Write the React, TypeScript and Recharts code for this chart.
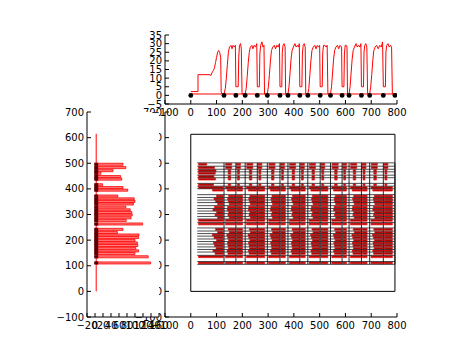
import React from "react";
import {
  ComposedChart,
  Line,
  Scatter,
  XAxis,
  YAxis,
  ReferenceArea,
  ReferenceLine,
} from "recharts";

// top panel: red trace and black markers on the zero line
const trace: [number, number][] = [
  [0, 2.2], [28, 2.2], [28, 12], [74, 12], [78, 11.5], [82, 13], [88, 14.5], [92, 16], [96, 19],
  [100, 22], [104, 25], [108, 26], [112, 25], [116, 22], [118, 2], [121, 0.8], [129, 0.8],
  [134, 4], [138, 10], [142, 18], [146, 25], [150, 28], [156, 29], [160, 27], [164, 29], [169, 28], [173, 29],
  [175, 5], [184, 5], [186, 22], [189, 29], [193, 30], [196, 27], [199, 0.8], [211, 0.8],
  [215, 4], [219, 11], [223, 19], [227, 25], [231, 28], [237, 29], [241, 27], [246, 29], [251, 28], [256, 30],
  [258, 5], [266, 5], [268, 24], [271, 29], [276, 31], [280, 28], [284, 29], [286, 0.8], [297, 0.8],
  [301, 5], [305, 12], [309, 20], [313, 26], [318, 28], [324, 29], [329, 27], [334, 29], [339, 28], [344, 30],
  [346, 5], [353, 5], [355, 25], [358, 29], [362, 30], [366, 28], [368, 0.8], [377, 0.8],
  [381, 5], [385, 13], [389, 21], [393, 26], [398, 28], [404, 30], [409, 28], [414, 29], [418, 28], [421, 30],
  [423, 5], [431, 5], [433, 24], [436, 29], [440, 30], [444, 28], [446, 0.8], [454, 0.8],
  [458, 4], [462, 12], [466, 20], [470, 26], [475, 28], [481, 29], [486, 27], [491, 29], [496, 28], [500, 29],
  [502, 5], [510, 5], [512, 25], [515, 29], [520, 29], [525, 28], [529, 29], [532, 0.8], [542, 0.8],
  [546, 5], [550, 13], [554, 21], [558, 26], [563, 28], [569, 29], [574, 27], [579, 29], [585, 28],
  [587, 5], [594, 5], [596, 24], [599, 29], [603, 29], [606, 28], [608, 0.8], [614, 0.8],
  [618, 5], [622, 13], [626, 21], [630, 26], [635, 28], [641, 30], [646, 28], [651, 29], [656, 28], [660, 30],
  [662, 5], [670, 5], [672, 25], [675, 29], [679, 30], [683, 28], [686, 0.8], [694, 0.8],
  [698, 5], [702, 12], [706, 20], [710, 26], [715, 28], [721, 29], [727, 27], [733, 29], [739, 28], [744, 31],
  [747, 5], [755, 5], [757, 25], [760, 29], [765, 30], [770, 28], [775, 29], [779, 28], [782, 0.8], [800, 0.8],
];
const gapX = [0, 129, 175, 211, 258, 297, 346, 377, 423, 454, 502, 542, 587, 614, 662, 694, 747, 792];
const baseLevel = 0.8;

// cycles seen in the main panel
const cycleFrom = [129, 211, 297, 377, 454, 542, 614, 694];
const cycleMid = [175, 258, 346, 423, 502, 587, 662, 747];
const cycleTo = [211, 297, 377, 454, 542, 614, 694, 792];

// rows shared by the left histogram and the main panel
const rowY = [496, 483, 471, 461, 448, 438, 416, 405, 395, 372, 361, 351, 341, 329, 318, 308, 298, 287, 277, 263,
  242, 230, 220, 210, 199, 189, 179, 168, 158, 148, 135, 111];
const barLen = [70, 77, 45, 15, 64, 67, 19, 70, 82, 57, 98, 100, 96, 77, 88, 92, 93, 90, 78, 119,
  70, 56, 110, 109, 100, 106, 107, 102, 109, 100, 133, 139];
const firstFrom = [30, 30, 30, 30, 30, 30, 30, 30, 84, 100, 90, 96, 104, 92, 86, 100, 94, 104, 30, 30,
  96, 104, 84, 90, 100, 88, 92, 98, 86, 94, 30, 30];
const firstTo = [62, 92, 98, 95, 90, 96, 88, 126, 126, 126, 126, 126, 126, 126, 126, 126, 126, 126, 126, 126,
  126, 126, 126, 126, 126, 126, 126, 126, 126, 126, 126, 126];
const rowKind = ["t", "t", "s", "s", "s", "s", "s", "d", "d", "d", "d", "d", "d", "d", "d", "d", "d", "d", "d", "d",
  "d", "d", "d", "d", "d", "d", "d", "d", "d", "d", "d", "d"];
const onset = [0, 0, 0, 0, 0, 0, 0, 5, 12, 18, 14, 16, 20, 14, 12, 18, 15, 20, 5, 5,
  16, 20, 11, 14, 18, 13, 15, 17, 12, 15, 5, 5];

const xTicks = [-100, 0, 100, 200, 300, 400, 500, 600, 700, 800];
const yTicksTop = [-5, 0, 5, 10, 15, 20, 25, 30, 35];
const yTicksMain = [-100, 0, 100, 200, 300, 400, 500, 600, 700];
const xTicksLeft = [-20, 0, 20, 40, 60, 80, 100, 120, 140, 160];

const W = 474;
const H = 353;
const font = { fontSize: 10, fill: "#000", fontFamily: "DejaVu Sans" };
const fmt = (v: number) => (v < 0 ? "\u2212" + Math.abs(v) : String(v));
const black = { stroke: "#000" };

function frame(xDom: number[], xT: number[], yDom: number[], yT: number[]) {
  return [
    <XAxis key="xb" type="number" dataKey="x" domain={xDom} ticks={xT} allowDataOverflow interval={0}
      tick={font} tickFormatter={fmt} tickSize={-4} tickMargin={9} height={20} axisLine={black} tickLine={black} />,
    <YAxis key="yl" type="number" dataKey="y" domain={yDom} ticks={yT} allowDataOverflow interval={0}
      tick={font} tickFormatter={fmt} tickSize={-4} tickMargin={7} width={30} axisLine={black} tickLine={black} />,
    <XAxis key="xt" xAxisId="t" orientation="top" type="number" domain={xDom} ticks={xT} allowDataOverflow
      interval={0} tick={false} tickSize={-4} height={0} axisLine={black} tickLine={black} />,
    <YAxis key="yr" yAxisId="r" orientation="right" type="number" domain={yDom} ticks={yT} allowDataOverflow
      interval={0} tick={false} tickSize={-4} width={0} axisLine={black} tickLine={black} />,
  ];
}

const layer: React.CSSProperties = { position: "absolute", left: 0, top: 0 };
const redBlock = { fill: "#a00000", fillOpacity: 1, stroke: "#ff1a1a", strokeWidth: 0.7, ifOverflow: "visible" as const };

function rowBlocks(i: number) {
  const y = rowY[i];
  const spans: [number, number][] = [[firstFrom[i], firstTo[i]]];
  cycleFrom.forEach((a, k) => {
    const b = cycleMid[k];
    const c = cycleTo[k];
    if (rowKind[i] === "d") spans.push([a + onset[i], b - 2], [b + 3, c - 10]);
    else if (rowKind[i] === "t") spans.push([a + 6, a + 30], [b + 2, b + 18]);
    else spans.push([a + 16, a + 26], [b + 6, b + 14]);
  });
  return spans.map(([x1, x2], j) => (
    <ReferenceArea key={`b${i}-${j}`} x1={x1} x2={x2} y1={y - 3.5} y2={y + 3.5} {...redBlock} />
  ));
}

function MainPanel() {
  const top = rowY[0] + 5.5;
  const bottom = rowY[rowY.length - 1] - 5.5;
  return (
    <div style={layer}>
      <ComposedChart width={W} height={H} margin={{ top: 112, right: 77, bottom: 16, left: 135 }}>
        {frame([-100, 800], xTicks, [-100, 700], yTicksMain)}
        <ReferenceArea x1={0} x2={792} y1={0} y2={613} fill="none" stroke="#000" strokeWidth={1} ifOverflow="visible" />
        {rowY.map((_, i) => rowBlocks(i))}
        {rowY.map((y) => (
          <ReferenceLine key={`h${y}`} segment={[{ x: 25, y: y + 5.5 }, { x: 792, y: y + 5.5 }]} stroke="#222" strokeWidth={0.8} />
        ))}
        <ReferenceLine segment={[{ x: 25, y: bottom }, { x: 792, y: bottom }]} stroke="#222" strokeWidth={0.8} />
        {gapX.slice(1).map((x) => (
          <ReferenceLine key={`v${x}`} segment={[{ x, y: bottom }, { x, y: top }]} stroke="#111" strokeWidth={0.9} />
        ))}
      </ComposedChart>
    </div>
  );
}

function LeftPanel() {
  const marks = rowY.map((y) => ({ x: 3, y }));
  return (
    <div style={layer}>
      <ComposedChart width={W} height={H} margin={{ top: 112, right: 315, bottom: 16, left: 57 }}>
        {frame([-20, 160], xTicksLeft, [-100, 700], yTicksMain)}
        <ReferenceLine segment={[{ x: 3, y: 0 }, { x: 3, y: 615 }]} stroke="#ff0000" strokeWidth={1} />
        {rowY.map((y, i) => (
          <ReferenceArea key={`l${y}`} x1={3} x2={barLen[i]} y1={y - 4} y2={y + 4}
            fill="#ff7a7a" fillOpacity={1} stroke="#ff0000" strokeWidth={0.8} ifOverflow="visible" />
        ))}
        <Scatter data={marks} dataKey="y" isAnimationActive={false}
          shape={(p: any) => <rect x={p.cx - 2} y={p.cy - 1.6} width={4} height={3.2} fill="#5a0000" />} />
      </ComposedChart>
    </div>
  );
}

function TopPanel() {
  const data = trace.map(([x, y]) => ({ x, y }));
  const dots = gapX.map((x) => ({ x, y: 0 }));
  return (
    <div style={layer}>
      <ComposedChart width={W} height={H} margin={{ top: 35, right: 77, bottom: 229, left: 135 }}>
        {frame([-100, 800], xTicks, [-5, 35], yTicksTop)}
        <ReferenceLine segment={[{ x: 0, y: baseLevel }, { x: 800, y: baseLevel }]} stroke="#ff0000" strokeWidth={1} />
        <Line data={data} dataKey="y" type="linear" stroke="#ff0000" strokeWidth={1} dot={false}
          activeDot={false} isAnimationActive={false} />
        <Scatter data={dots} dataKey="y" isAnimationActive={false}
          shape={(p: any) => <circle cx={p.cx} cy={p.cy} r={2.4} fill="#000" />} />
      </ComposedChart>
    </div>
  );
}

export default function App() {
  return (
    <div style={{ position: "absolute", left: 0, top: 0, width: W, height: H, background: "#fff" }}>
      <MainPanel />
      <div style={{ position: "absolute", left: 87, top: 112, width: 72, height: 205, background: "#fff" }} />
      <LeftPanel />
      <TopPanel />
    </div>
  );
}
